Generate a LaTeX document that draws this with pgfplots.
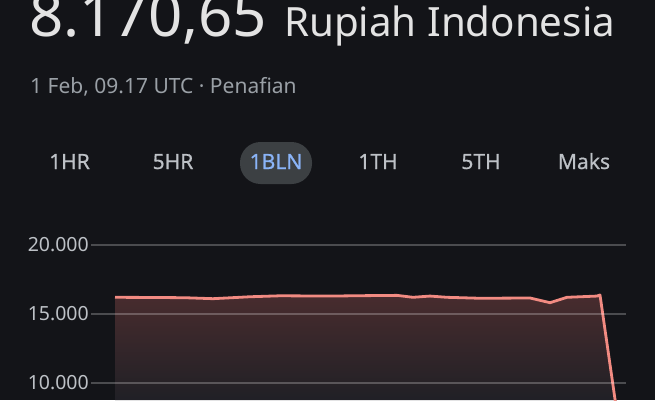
\documentclass[border=0pt]{standalone}
\usepackage{pgfplots}
\pgfplotsset{compat=1.18}
\usepackage{fontspec}
\setmainfont{Noto Sans}
\newfontfamily\medfont[FakeBold=0.6]{Noto Sans}
\definecolor{bg}{HTML}{131418}
\definecolor{titlewhite}{HTML}{E3E3E3}
\definecolor{subgray}{HTML}{9AA0A6}
\definecolor{btngray}{HTML}{BDC1C6}
\definecolor{pillgray}{HTML}{3C4043}
\definecolor{pillblue}{HTML}{8AB4F8}
\definecolor{linered}{HTML}{F28B82}
\definecolor{filltop}{HTML}{482C2E}
\definecolor{fillbot}{HTML}{1D1F25}

\pgfplotstableread{
x y
115 16210
150 16200
185 16180
213 16110
250 16250
280 16320
330 16300
365 16330
397 16350
413 16210
430 16300
447 16210
480 16140
530 16160
550 15820
567 16210
597 16300
600 16377
616.3 8170.65
}\rate

\begin{document}
\begin{tikzpicture}[x=1pt,y=1pt]
\useasboundingbox (0,0) rectangle (655,400);
\clip (0,0) rectangle (655,400);
\fill[bg] (0,0) rectangle (655,400);

% header
\node[anchor=base west, inner sep=0pt, text=titlewhite, font=\fontsize{60}{64}\selectfont] at (29,363) {8.170,65};
\node[anchor=base west, inner sep=0pt, text=titlewhite, font=\fontsize{40.3}{44}\selectfont] at (284,363) {Rupiah Indonesia};
\node[anchor=base west, inner sep=0pt, text=subgray, font=\fontsize{21}{24}\selectfont] at (30,307) {1 Feb, 09.17 UTC · Penafian};

% range buttons
\fill[pillgray, rounded corners=20.5pt] (240,216) rectangle (312,258);
\begin{scope}[every node/.style={anchor=base, inner sep=0pt, font=\medfont\fontsize{21}{24}\selectfont, text=btngray}]
\node at (69.5,231) {1HR};
\node at (173,231) {5HR};
\node[text=pillblue] at (276,231) {1BLN};
\node at (378,231) {1TH};
\node at (481,231) {5TH};
\node at (584,231) {Maks};
\end{scope}

\begin{axis}[
    at={(91pt,0pt)}, anchor=south west,
    scale only axis, width=535pt, height=155pt,
    xmin=91, xmax=626, ymin=8768, ymax=20000,
    axis on top,
    axis line style={draw=none},
    xtick=\empty,
    ytick={10000,15000,20000},
    scaled y ticks=false,
    major tick length=0pt,
    ymajorgrids,
    grid style={draw=white, draw opacity=0.24, line width=1.2pt},
    yticklabel style={font=\fontsize{19.5}{22}\selectfont, text=btngray, inner sep=0pt, xshift=-2pt,
        /pgf/number format/.cd, fixed, precision=0, 1000 sep={.}, assume math mode=true},
]
\addplot[draw=none, top color=filltop, bottom color=fillbot] table {\rate} \closedcycle;
\addplot[draw=linered, line width=2.8pt, line join=round] table {\rate};
\end{axis}
\end{tikzpicture}
\end{document}
